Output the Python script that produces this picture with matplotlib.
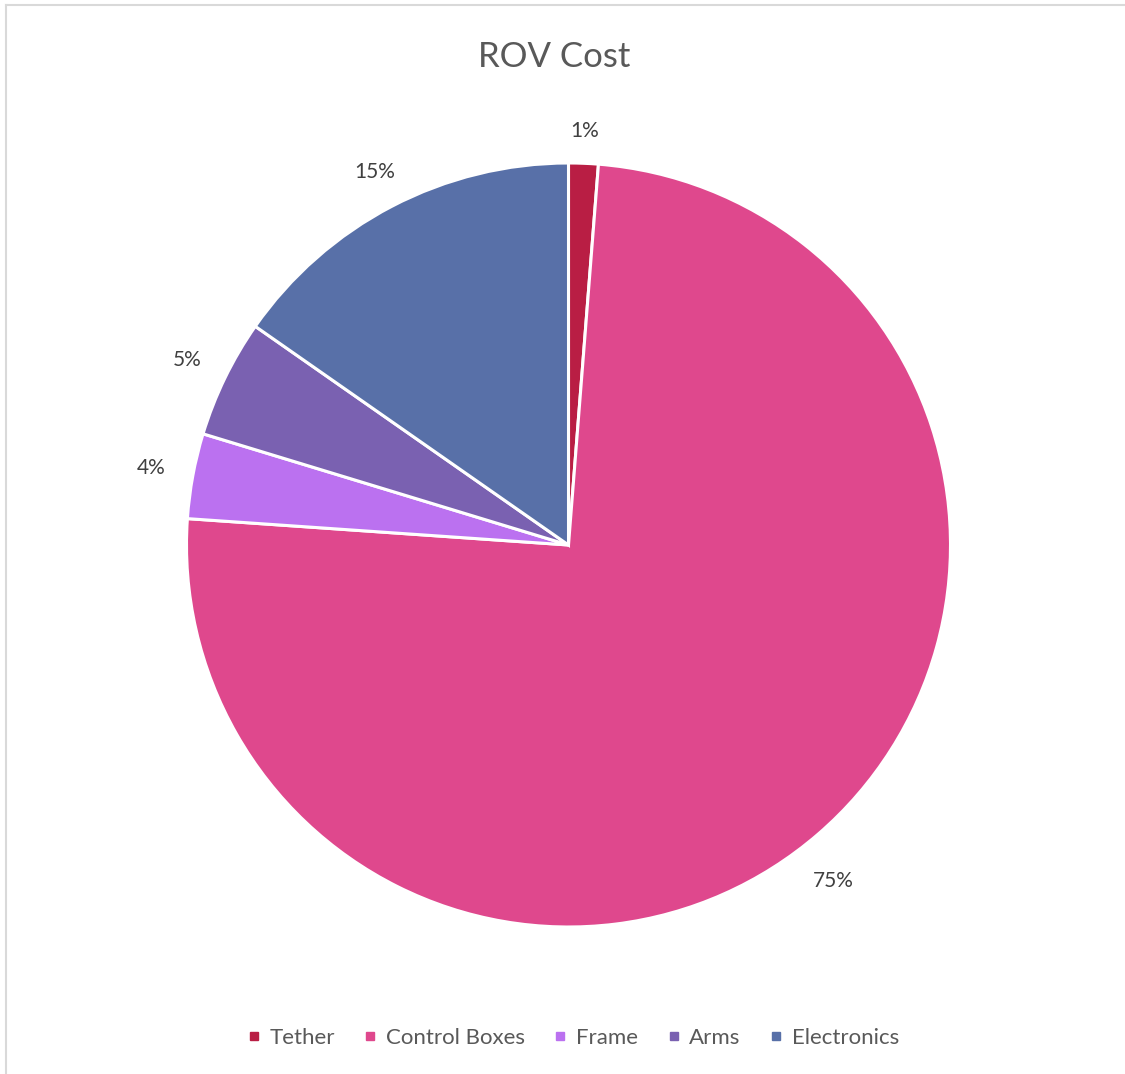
import numpy as np
import matplotlib.pyplot as plt
from matplotlib.lines import Line2D

plt.rcParams['font.family'] = ['Lato', 'DejaVu Sans']

# data (percent of total cost)
parts = ["Tether", "Control Boxes", "Frame", "Arms", "Electronics"]
cost = [1.25, 74.85, 3.6, 5.0, 15.3]
colors = ["#B91E44", "#DF488D", "#BB71F0", "#7A61B1", "#5870A8"]
label_dist = [1.085, 1.12, 1.11, 1.11, 1.10]
label_turn = [0, -2.6, 0, 0, 0]  # degrees

fig = plt.figure(figsize=(11.25, 10.74), dpi=100)

# light grey chart border (only top/left visible in the reference)
fig.add_artist(Line2D([6 / 1125, 6 / 1125], [0, 1 - 5 / 1074], color="#D9D9D9", lw=1.5))
fig.add_artist(Line2D([6 / 1125, 1], [1 - 5 / 1074, 1 - 5 / 1074], color="#D9D9D9", lw=1.5))

r = 382
cx, cy = 568.5, 545
ax = fig.add_axes([(cx - r) / 1125, 1 - (cy + r) / 1074, 2 * r / 1125, 2 * r / 1074])

wedges, texts, autotexts = ax.pie(
    cost, colors=colors, startangle=90, counterclock=False,
    autopct='%.0f%%', pctdistance=1.11,
    wedgeprops=dict(edgecolor="white", linewidth=2.2),
    textprops=dict(color="#404040", fontsize=15),
)
# excel-like "best fit" label positions
for w, t, d, turn in zip(wedges, autotexts, label_dist, label_turn):
    ang = np.deg2rad((w.theta1 + w.theta2) / 2 + turn)
    t.set_position((d * np.cos(ang), d * np.sin(ang)))

ax.set_xlim(-1, 1)
ax.set_ylim(-1, 1)
ax.set_aspect("equal")
ax.axis("off")

fig.text(554 / 1125, 1 - 57 / 1074, "ROV Cost", ha="center", va="center",
         fontsize=25, color="#595959")

handles = [Line2D([], [], marker="s", linestyle="none", markersize=6,
                  markerfacecolor=c, markeredgecolor=c) for c in colors]
fig.legend(handles, parts, loc="center", bbox_to_anchor=(573 / 1125, 1 - 1038 / 1074),
           ncol=5, frameon=False, fontsize=16, labelcolor="#595959",
           handlelength=0.6, handletextpad=0.4, columnspacing=1.3)

plt.savefig("out.png", dpi=100)
